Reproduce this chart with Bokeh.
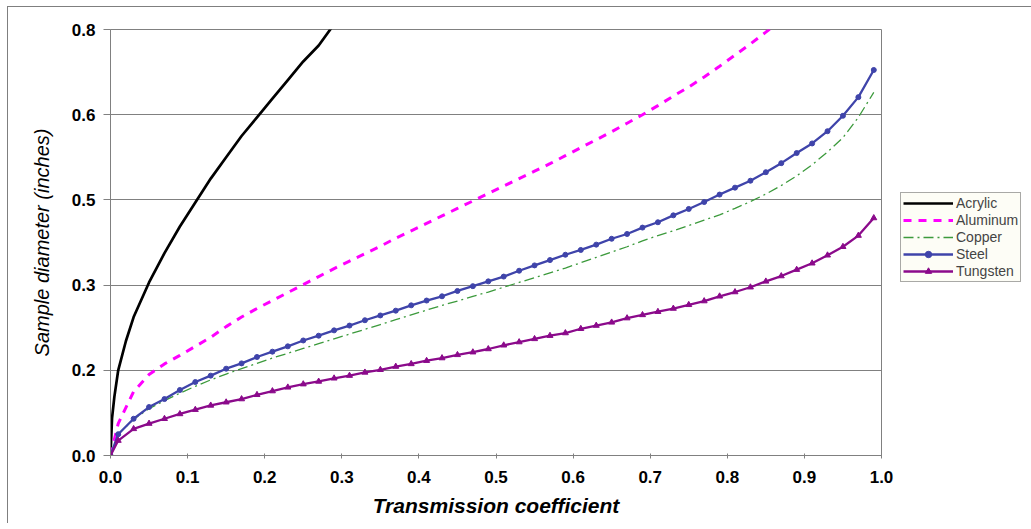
from bokeh.plotting import figure
from bokeh.models import Legend, LegendItem, FixedTicker, Range1d
from bokeh.embed import file_html
from bokeh.resources import INLINE

# ---- data ----
transmission = [0, 0.01, 0.03, 0.05, 0.07, 0.09, 0.11, 0.13, 0.15, 0.17, 0.19,
                0.21, 0.23, 0.25, 0.27, 0.29, 0.31, 0.33, 0.35, 0.37, 0.39,
                0.41, 0.43, 0.45, 0.47, 0.49, 0.51, 0.53, 0.55, 0.57, 0.59,
                0.61, 0.63, 0.65, 0.67, 0.69, 0.71, 0.73, 0.75, 0.77, 0.79,
                0.81, 0.83, 0.85, 0.87, 0.89, 0.91, 0.93, 0.95, 0.97, 0.99]

acrylic_x = [0, 0.002, 0.005, 0.01, 0.02, 0.03, 0.05, 0.07, 0.09, 0.11, 0.13,
             0.15, 0.17, 0.19, 0.21, 0.23, 0.25, 0.27, 0.29, 0.31]
acrylic = [0, 0.07, 0.11, 0.16, 0.215, 0.26, 0.325, 0.38, 0.43, 0.475, 0.52,
           0.56, 0.60, 0.635, 0.67, 0.705, 0.74, 0.77, 0.81, 0.84]

aluminum = [0, 0.06, 0.12, 0.152, 0.172, 0.188, 0.205, 0.222, 0.242, 0.26, 0.276,
            0.291, 0.306, 0.321, 0.336, 0.351, 0.365, 0.379, 0.393, 0.408, 0.422,
            0.436, 0.450, 0.464, 0.478, 0.492, 0.506, 0.520, 0.534, 0.548, 0.563,
            0.578, 0.593, 0.608, 0.624, 0.640, 0.657, 0.675, 0.692, 0.711, 0.731,
            0.752, 0.773, 0.795, 0.818]

copper = [0, 0.04, 0.068, 0.088, 0.103, 0.117, 0.13, 0.142, 0.153, 0.163, 0.173,
          0.183, 0.192, 0.201, 0.21, 0.219, 0.228, 0.237, 0.246, 0.255, 0.264,
          0.273, 0.282, 0.29, 0.299, 0.307, 0.316, 0.325, 0.334, 0.343, 0.352,
          0.362, 0.372, 0.382, 0.392, 0.403, 0.413, 0.422, 0.432, 0.442, 0.452,
          0.464, 0.477, 0.491, 0.507, 0.525, 0.546, 0.57, 0.597, 0.635, 0.682]

steel = [0, 0.04, 0.069, 0.091, 0.106, 0.123, 0.138, 0.150, 0.163, 0.173, 0.185,
         0.195, 0.205, 0.216, 0.225, 0.235, 0.244, 0.254, 0.263, 0.272, 0.282,
         0.291, 0.299, 0.309, 0.318, 0.327, 0.336, 0.347, 0.357, 0.367, 0.377,
         0.386, 0.396, 0.407, 0.416, 0.428, 0.438, 0.451, 0.463, 0.476, 0.49,
         0.503, 0.516, 0.532, 0.549, 0.568, 0.586, 0.609, 0.638, 0.673, 0.724]

tungsten = [0, 0.028, 0.050, 0.060, 0.069, 0.078, 0.086, 0.094, 0.100, 0.106, 0.114,
            0.121, 0.128, 0.134, 0.139, 0.145, 0.150, 0.156, 0.161, 0.167, 0.172,
            0.178, 0.183, 0.189, 0.194, 0.200, 0.207, 0.213, 0.219, 0.225, 0.230,
            0.238, 0.244, 0.250, 0.258, 0.264, 0.270, 0.276, 0.283, 0.290, 0.299,
            0.307, 0.316, 0.327, 0.337, 0.349, 0.361, 0.376, 0.392, 0.413, 0.446]

x_ticks = [0.0, 0.1, 0.2, 0.3, 0.4, 0.5, 0.6, 0.7, 0.8, 0.9, 1.0]
x_tick_labels = ["0.0", "0.1", "0.2", "0.3", "0.4", "0.5", "0.6", "0.7", "0.8", "0.9", "1.0"]
y_ticks = [0.0, 0.16, 0.32, 0.48, 0.64, 0.8]
y_tick_labels = ["0.0", "0.2", "0.3", "0.5", "0.6", "0.8"]

FONT = "Liberation Sans"
GRAY = "#808080"

p = figure(frame_width=771, frame_height=426,
           min_border_left=102, min_border_right=140,
           min_border_top=22, min_border_bottom=68,
           x_range=Range1d(0, 1), y_range=Range1d(0, 0.8),
           output_backend="svg", toolbar_location=None,
           background_fill_color="white", border_fill_color="white")
p.styles = {"margin-left": "7px", "margin-top": "6px",
            "border-left": "1px solid #7F7F7F", "border-top": "1px solid #7F7F7F"}

p.outline_line_color = GRAY
p.outline_line_width = 1
p.xgrid.visible = False
p.ygrid.grid_line_color = GRAY
p.ygrid.grid_line_width = 1
p.ygrid.ticker = FixedTicker(ticks=y_ticks)

p.xaxis.ticker = FixedTicker(ticks=x_ticks)
p.xaxis.major_label_overrides = {t: l for t, l in zip(x_ticks, x_tick_labels)}
p.yaxis.ticker = FixedTicker(ticks=y_ticks)
p.yaxis.major_label_overrides = {t: l for t, l in zip(y_ticks, y_tick_labels)}

for ax in (p.xaxis[0], p.yaxis[0]):
    ax.axis_line_color = GRAY
    ax.major_tick_line_color = GRAY
    ax.minor_tick_line_color = None
    ax.major_label_text_font = FONT
    ax.major_label_text_font_style = "bold"
    ax.major_label_text_font_size = "17px"
    ax.major_label_text_color = "black"
    ax.axis_label_text_font = FONT
    ax.axis_label_text_color = "black"

p.xaxis.major_tick_in = 2
p.xaxis.major_tick_out = 3
p.xaxis.major_label_standoff = 12
p.xaxis.axis_label = "Transmission coefficient"
p.xaxis.axis_label_text_font_style = "bold italic"
p.xaxis.axis_label_text_font_size = "21px"
p.xaxis.axis_label_standoff = 8

p.yaxis.major_tick_in = 0
p.yaxis.major_tick_out = 7
p.yaxis.major_label_standoff = 8
p.yaxis.axis_label = "Sample diameter (inches)"
p.yaxis.axis_label_text_font_style = "italic"
p.yaxis.axis_label_text_font_size = "20px"
p.yaxis.axis_label_standoff = 16

n_al = len(aluminum)
r_ac = p.line(acrylic_x, acrylic, line_color="black", line_width=2.7)
r_al = p.line(transmission[:n_al], aluminum, line_color="#FF00FF", line_width=3,
              line_dash="8 7")
r_cu = p.line(transmission, copper, line_color="#3C9A3C", line_width=1.3,
              line_dash="10 4 2 4")
r_st = p.line(transmission, steel, line_color="#3F44AA", line_width=2.3)
r_st_m = p.scatter(transmission, steel, marker="circle", size=5,
                   fill_color="#3F44AA", line_color="#3F44AA")
r_tu = p.line(transmission, tungsten, line_color="#8B0A8B", line_width=2.3)
r_tu_m = p.scatter(transmission, tungsten, marker="triangle", size=6,
                   fill_color="#8B0A8B", line_color="#8B0A8B")

legend = Legend(items=[
    LegendItem(label="Acrylic", renderers=[r_ac]),
    LegendItem(label="Aluminum", renderers=[r_al]),
    LegendItem(label="Copper", renderers=[r_cu]),
    LegendItem(label="Steel", renderers=[r_st, r_st_m]),
    LegendItem(label="Tungsten", renderers=[r_tu, r_tu_m]),
], location=(19, 173))
legend.label_text_font = FONT
legend.label_text_font_size = "14px"
legend.glyph_width = 50
legend.glyph_height = 16
legend.label_height = 16
legend.label_standoff = 3
legend.spacing = 1
legend.padding = 2
legend.margin = 0
legend.border_line_color = "#555555"
legend.border_line_width = 1
legend.background_fill_color = "#FDFDF6"
legend.background_fill_alpha = 1
p.add_layout(legend, "right")

open("out.html", "w").write(file_html(p, INLINE))
